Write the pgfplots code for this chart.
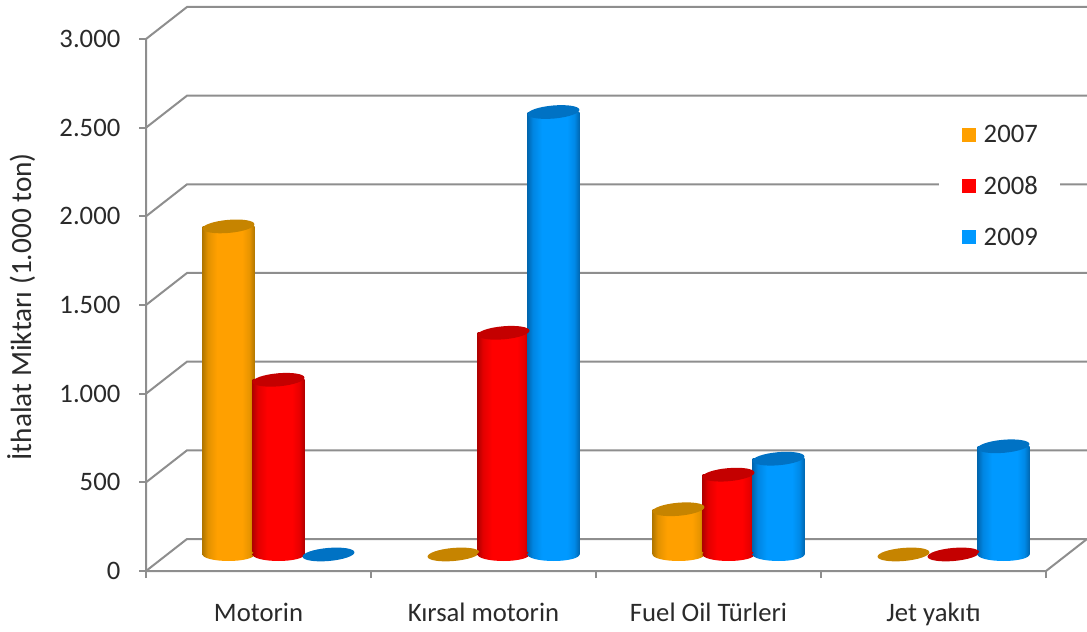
\documentclass[border=0pt]{standalone}
\usepackage{pgfplots}
\usepackage{pgfplotstable}
\usepackage{fontspec}
\setmainfont{Carlito}
\pgfplotsset{compat=1.18}
\definecolor{gridc}{HTML}{8E8E8E}
\definecolor{txt}{HTML}{2A2A2A}
\definecolor{cO}{HTML}{FFA000}
\definecolor{cR}{HTML}{FF0000}
\definecolor{cB}{HTML}{0099FF}
\definecolor{tO}{HTML}{C68400}
\definecolor{tR}{HTML}{C40000}
\definecolor{tB}{HTML}{0072C4}
\pgfdeclarehorizontalshading{cylO}{100bp}{color(0bp)=(tO!90!black); color(25bp)=(tO!90!black); color(30bp)=(tO!50!cO); color(39bp)=(cO); color(63bp)=(cO); color(70bp)=(tO!40!cO); color(75bp)=(tO!90!black); color(100bp)=(tO!90!black)}
\pgfdeclarehorizontalshading{cylR}{100bp}{color(0bp)=(tR!90!black); color(25bp)=(tR!90!black); color(30bp)=(tR!50!cR); color(39bp)=(cR); color(63bp)=(cR); color(70bp)=(tR!40!cR); color(75bp)=(tR!90!black); color(100bp)=(tR!90!black)}
\pgfdeclarehorizontalshading{cylB}{100bp}{color(0bp)=(tB!90!black); color(25bp)=(tB!90!black); color(30bp)=(tB!50!cB); color(39bp)=(cB); color(63bp)=(cB); color(70bp)=(tB!40!cB); color(75bp)=(tB!90!black); color(100bp)=(tB!90!black)}
\newcommand{\cylell}{\pgfpathellipse{\pgfpointorigin}{\pgfqpoint{19.45pt}{1.7pt}}{\pgfqpoint{-0.43pt}{4.88pt}}}
\newcommand{\cylbase}{\pgfpathellipse{\pgfpointorigin}{\pgfqpoint{19.5pt}{0pt}}{\pgfqpoint{0pt}{4.9pt}}}
\pgfdeclareplotmark{cyltop}{\cylell\pgfusepathqfill}
\pgfdeclareplotmark{baseO}{\cylbase\pgfshadepath{cylO}{0}\pgfusepath{discard}}
\pgfdeclareplotmark{baseR}{\cylbase\pgfshadepath{cylR}{0}\pgfusepath{discard}}
\pgfdeclareplotmark{baseB}{\cylbase\pgfshadepath{cylB}{0}\pgfusepath{discard}}
\pgfplotstableread{
x y
0 1850
1 0
2 255
3 0
}\tabO
\pgfplotstableread{
x y
0 985
1 1250
2 450
3 0
}\tabR
\pgfplotstableread{
x y
0 0
1 2495
2 540
3 610
}\tabB
\pgfplotsset{
  cylO/.style={forget plot,ybar,bar width=39pt,bar shift=0pt,draw=none,shade,shading=cylO,xshift=-22.5pt,yshift=12.4pt},
  cylR/.style={forget plot,ybar,bar width=39pt,bar shift=0pt,draw=none,shade,shading=cylR,xshift=15pt,yshift=12.4pt},
  cylB/.style={forget plot,ybar,bar width=39pt,bar shift=0pt,draw=none,shade,shading=cylB,xshift=52.5pt,yshift=12.4pt},
}
\begin{document}
\begin{tikzpicture}
\path[use as bounding box] (0,0) rectangle (815.25pt,473.25pt);
\begin{axis}[
  at={(109.5pt,45pt)}, anchor=south west,
  scale only axis, width=705.75pt, height=421.5pt,
  xmin=-0.5, xmax=3.6822, ymin=0, ymax=3169.2,
  clip=false,
  axis line style={draw=none},
  xtick={0,1,2,3},
  xticklabels={Motorin,Kırsal motorin,Fuel Oil Türleri,Jet yakıtı},
  minor xtick={-0.5,0.5,1.5,2.5,3.5},
  ytick={0,500,1000,1500,2000,2500,3000},
  xtick pos=bottom, ytick pos=left, tick align=outside,
  major x tick style={draw=none},
  minor x tick style={gridc,line width=1.3pt},
  major y tick style={gridc,line width=1.3pt},
  major tick length=5.25pt, minor tick length=5.25pt,
  /pgf/number format/assume math mode=true,
  /pgf/number format/1000 sep={.},
  scaled y ticks=false,
  tick label style={font=\fontsize{20}{24}\selectfont, text=txt},
  yticklabel style={xshift=-10.5pt},
  xticklabel style={yshift=-15pt},
  ylabel={İthalat Miktarı (1.000 ton)},
  every axis y label/.style={at={(axis description cs:-0.1325,0.47)},rotate=90,anchor=center,font=\fontsize{22}{26}\selectfont,text=txt},
  legend style={at={(axis cs:3.022,2588)},anchor=north west,draw=none,fill=white,
     font=\fontsize{20}{24}\selectfont, text=txt, row sep=19.5pt, inner xsep=14.5pt, inner ysep=8pt},
  legend cell align=left,
  legend image code/.code={\fill[#1] (0pt,-5.25pt) rectangle (10.5pt,5.25pt); \path (-3pt,0pt) (14.25pt,0pt);},
]
% walls and floor
\addplot[forget plot,gridc,line width=1.5pt] coordinates {(-0.5,3000) (-0.3178,3180.45) (3.6822,3180.45)};
\addplot[forget plot,gridc,line width=1.5pt] coordinates {(-0.5,2500) (-0.3178,2680.45) (3.6822,2680.45)};
\addplot[forget plot,gridc,line width=1.5pt] coordinates {(-0.5,2000) (-0.3178,2180.45) (3.6822,2180.45)};
\addplot[forget plot,gridc,line width=1.5pt] coordinates {(-0.5,1500) (-0.3178,1680.45) (3.6822,1680.45)};
\addplot[forget plot,gridc,line width=1.5pt] coordinates {(-0.5,1000) (-0.3178,1180.45) (3.6822,1180.45)};
\addplot[forget plot,gridc,line width=1.5pt] coordinates {(-0.5,500) (-0.3178,680.45) (3.6822,680.45)};
\addplot[forget plot,gridc,line width=1.5pt] coordinates {(-0.5,0) (-0.3178,180.45) (3.6822,180.45)};
\addplot[forget plot,gridc,line width=1.5pt] coordinates {(-0.5,3000) (-0.5,0) (3.5,0) (3.6822,180.45)};
% 2007
\addplot[forget plot,only marks,mark=baseO,xshift=-22.5pt,yshift=12.4pt] coordinates {(0,0) (2,0)};
\addplot[cylO] coordinates {(0,1850)};
\addplot[cylO] coordinates {(2,255)};
\addplot[forget plot,only marks,mark=cyltop,mark options={draw=none,fill=tO},xshift=-22.5pt,yshift=12.4pt] table[x=x,y=y] {\tabO};
% 2008
\addplot[forget plot,only marks,mark=baseR,xshift=15pt,yshift=12.4pt] coordinates {(0,0) (1,0) (2,0)};
\addplot[cylR] coordinates {(0,985)};
\addplot[cylR] coordinates {(1,1250)};
\addplot[cylR] coordinates {(2,450)};
\addplot[forget plot,only marks,mark=cyltop,mark options={draw=none,fill=tR},xshift=15pt,yshift=12.4pt] table[x=x,y=y] {\tabR};
% 2009
\addplot[forget plot,only marks,mark=baseB,xshift=52.5pt,yshift=12.4pt] coordinates {(1,0) (2,0) (3,0)};
\addplot[cylB] coordinates {(1,2495)};
\addplot[cylB] coordinates {(2,540)};
\addplot[cylB] coordinates {(3,610)};
\addplot[forget plot,only marks,mark=cyltop,mark options={draw=none,fill=tB},xshift=52.5pt,yshift=12.4pt] table[x=x,y=y] {\tabB};
% legend
\addlegendimage{fill=cO,draw=none}
\addlegendimage{fill=cR,draw=none}
\addlegendimage{fill=cB,draw=none}
\legend{2007,2008,2009}
\end{axis}
\end{tikzpicture}
\end{document}
